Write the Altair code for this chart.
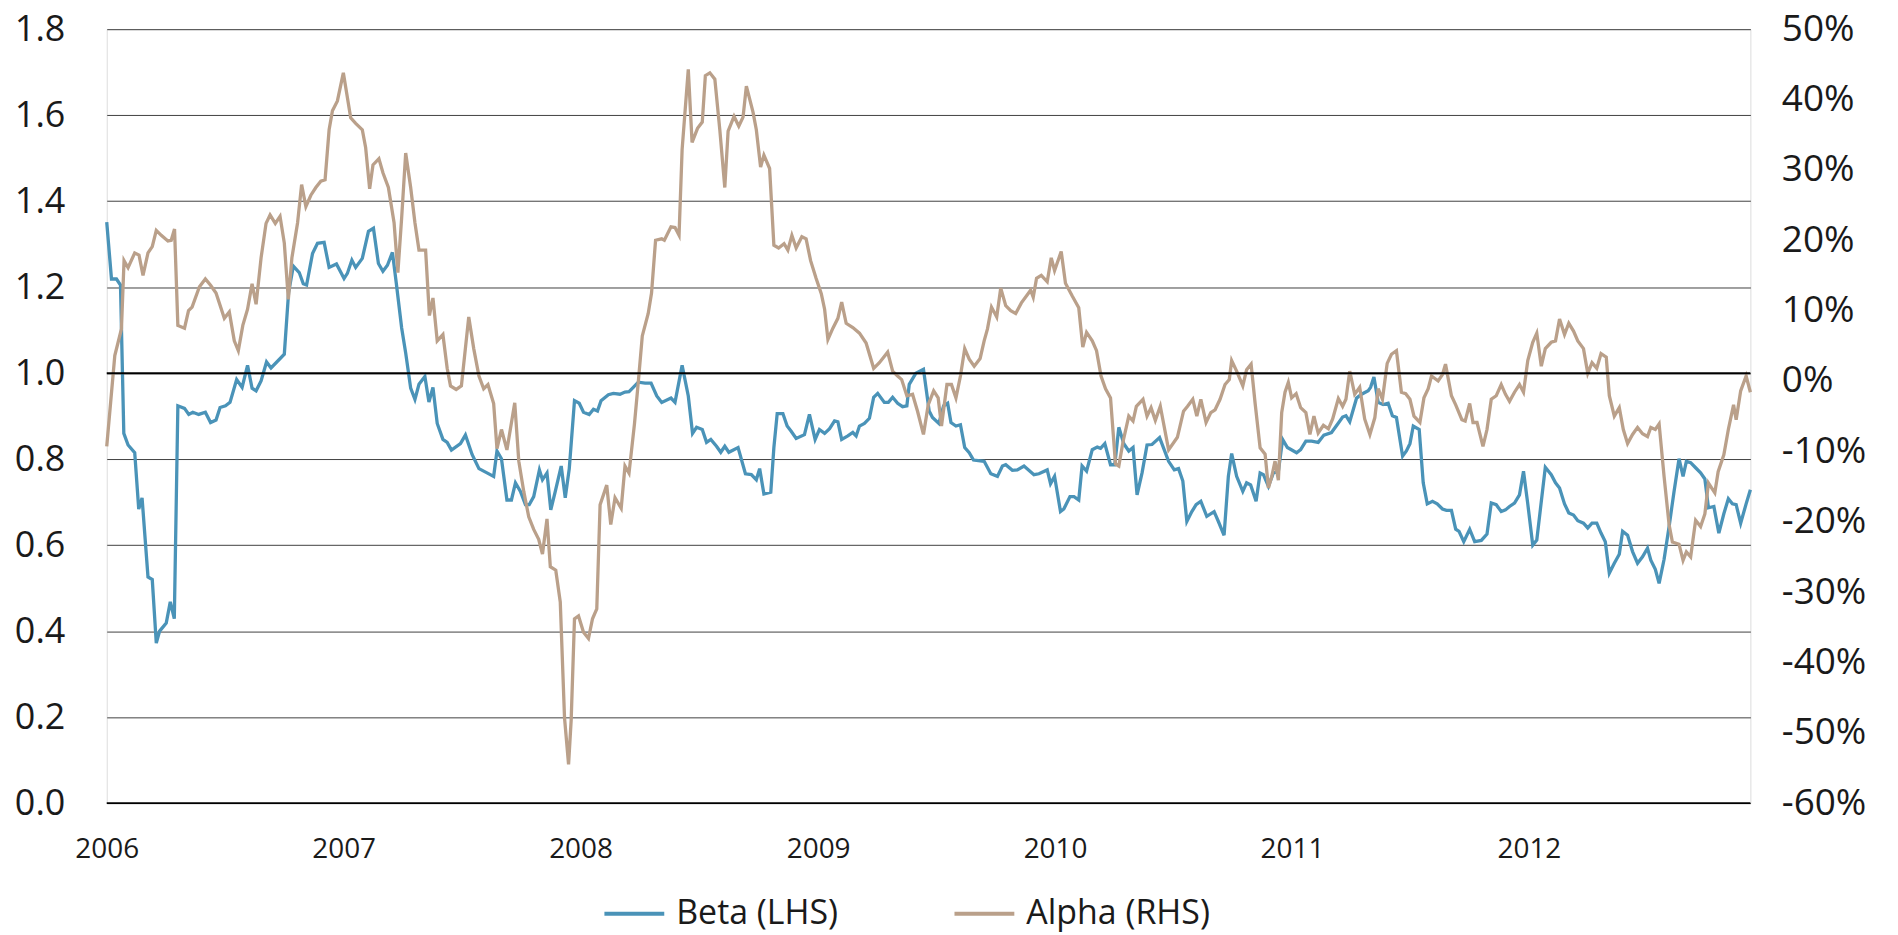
import altair as alt
import pandas as pd
import numpy as np

# ---- data (time in years since 2006-01-01) ----
beta_t = [0.000, 0.020, 0.041, 0.058, 0.072, 0.090, 0.118, 0.135, 0.149, 0.174, 0.192, 0.209, 0.223, 0.251,
          0.268, 0.285, 0.300, 0.328, 0.346, 0.363, 0.388, 0.416, 0.438, 0.461, 0.478, 0.501, 0.520, 0.548,
          0.571, 0.594, 0.613, 0.630, 0.651, 0.674, 0.693, 0.749, 0.767, 0.787, 0.812, 0.829, 0.843, 0.868,
          0.889, 0.917, 0.938, 0.969, 1.001, 1.015, 1.034, 1.050, 1.078, 1.104, 1.125, 1.146, 1.165, 1.184,
          1.205, 1.221, 1.244, 1.261, 1.282, 1.300, 1.317, 1.342, 1.359, 1.376, 1.394, 1.418, 1.436, 1.454,
          1.492, 1.513, 1.541, 1.570, 1.604, 1.632, 1.646, 1.665, 1.688, 1.707, 1.724, 1.745, 1.766, 1.782,
          1.801, 1.825, 1.838, 1.857, 1.873, 1.892, 1.917, 1.934, 1.951, 1.973, 1.993, 2.011, 2.035, 2.053,
          2.070, 2.085, 2.116, 2.137, 2.165, 2.186, 2.203, 2.221, 2.242, 2.271, 2.296, 2.320, 2.341, 2.380,
          2.397, 2.427, 2.453, 2.471, 2.488, 2.512, 2.530, 2.548, 2.572, 2.590, 2.607, 2.624, 2.663, 2.694,
          2.719, 2.740, 2.754, 2.772, 2.801, 2.814, 2.828, 2.852, 2.870, 2.887, 2.908, 2.943, 2.964, 2.988,
          3.006, 3.028, 3.049, 3.070, 3.084, 3.100, 3.126, 3.147, 3.161, 3.175, 3.196, 3.217, 3.235, 3.252,
          3.280, 3.297, 3.315, 3.336, 3.357, 3.375, 3.385, 3.413, 3.445, 3.469, 3.483, 3.510, 3.530, 3.547,
          3.561, 3.582, 3.601, 3.619, 3.638, 3.656, 3.701, 3.729, 3.757, 3.778, 3.792, 3.820, 3.841, 3.869,
          3.911, 3.932, 3.967, 3.981, 3.998, 4.023, 4.037, 4.063, 4.080, 4.100, 4.114, 4.133, 4.157, 4.178,
          4.192, 4.210, 4.234, 4.252, 4.269, 4.290, 4.311, 4.329, 4.346, 4.367, 4.388, 4.409, 4.441, 4.479,
          4.503, 4.521, 4.539, 4.556, 4.577, 4.595, 4.615, 4.640, 4.671, 4.689, 4.713, 4.731, 4.745, 4.766,
          4.792, 4.808, 4.825, 4.848, 4.865, 4.879, 4.900, 4.921, 4.942, 4.960, 4.980, 5.019, 5.036, 5.058,
          5.082, 5.110, 5.134, 5.166, 5.190, 5.213, 5.227, 5.243, 5.272, 5.293, 5.321, 5.331, 5.345, 5.363,
          5.384, 5.405, 5.423, 5.440, 5.466, 5.482, 5.497, 5.511, 5.536, 5.553, 5.570, 5.592, 5.612, 5.634,
          5.651, 5.672, 5.690, 5.704, 5.724, 5.749, 5.770, 5.798, 5.822, 5.840, 5.861, 5.882, 5.900, 5.917,
          5.938, 5.959, 5.976, 5.994, 6.015, 6.032, 6.068, 6.093, 6.111, 6.128, 6.149, 6.167, 6.187, 6.205,
          6.229, 6.247, 6.265, 6.285, 6.303, 6.321, 6.338, 6.359, 6.380, 6.394, 6.415, 6.436, 6.457, 6.478,
          6.499, 6.513, 6.532, 6.548, 6.569, 6.590, 6.611, 6.632, 6.649, 6.663, 6.681, 6.702, 6.723, 6.741,
          6.756, 6.779, 6.800, 6.821, 6.840, 6.857, 6.873, 6.892, 6.915, 6.933]
beta_v = [1.351, 1.219, 1.219, 1.205, 0.860, 0.833, 0.815, 0.684, 0.710, 0.526, 0.520, 0.372, 0.400, 0.419,
          0.468, 0.429, 0.924, 0.918, 0.904, 0.909, 0.904, 0.909, 0.885, 0.891, 0.920, 0.924, 0.932, 0.985,
          0.967, 1.018, 0.965, 0.959, 0.982, 1.026, 1.012, 1.044, 1.187, 1.249, 1.234, 1.208, 1.205, 1.278,
          1.302, 1.304, 1.246, 1.254, 1.220, 1.232, 1.263, 1.246, 1.267, 1.330, 1.337, 1.255, 1.237, 1.251,
          1.281, 1.211, 1.105, 1.047, 0.965, 0.939, 0.974, 0.992, 0.933, 0.967, 0.883, 0.846, 0.839, 0.821,
          0.836, 0.856, 0.811, 0.778, 0.768, 0.760, 0.819, 0.801, 0.705, 0.705, 0.745, 0.725, 0.694, 0.694,
          0.713, 0.775, 0.752, 0.768, 0.682, 0.725, 0.784, 0.710, 0.778, 0.936, 0.930, 0.909, 0.904, 0.916,
          0.912, 0.936, 0.950, 0.953, 0.951, 0.956, 0.957, 0.967, 0.979, 0.977, 0.977, 0.947, 0.932, 0.942,
          0.932, 1.018, 0.947, 0.860, 0.874, 0.869, 0.839, 0.846, 0.830, 0.816, 0.830, 0.816, 0.827, 0.766,
          0.764, 0.752, 0.778, 0.719, 0.723, 0.827, 0.906, 0.906, 0.877, 0.865, 0.848, 0.857, 0.904, 0.846,
          0.869, 0.860, 0.871, 0.889, 0.887, 0.846, 0.854, 0.862, 0.854, 0.877, 0.883, 0.895, 0.944, 0.953,
          0.932, 0.932, 0.944, 0.930, 0.922, 0.924, 0.974, 1.000, 1.009, 0.912, 0.897, 0.883, 0.924, 0.930,
          0.885, 0.877, 0.880, 0.827, 0.815, 0.798, 0.795, 0.766, 0.760, 0.784, 0.787, 0.774, 0.775, 0.784,
          0.764, 0.766, 0.775, 0.743, 0.760, 0.678, 0.684, 0.713, 0.713, 0.705, 0.784, 0.772, 0.822, 0.828,
          0.825, 0.836, 0.787, 0.787, 0.874, 0.836, 0.819, 0.827, 0.717, 0.768, 0.833, 0.834, 0.850, 0.795,
          0.775, 0.778, 0.749, 0.655, 0.678, 0.694, 0.702, 0.667, 0.678, 0.655, 0.623, 0.760, 0.813, 0.760,
          0.725, 0.745, 0.740, 0.702, 0.768, 0.764, 0.737, 0.768, 0.772, 0.846, 0.827, 0.815, 0.822, 0.842,
          0.842, 0.839, 0.856, 0.862, 0.880, 0.898, 0.901, 0.887, 0.942, 0.951, 0.959, 0.967, 0.991, 0.932,
          0.927, 0.930, 0.901, 0.897, 0.807, 0.819, 0.836, 0.877, 0.869, 0.745, 0.696, 0.702, 0.696, 0.684,
          0.681, 0.681, 0.637, 0.632, 0.608, 0.637, 0.608, 0.611, 0.626, 0.698, 0.694, 0.678, 0.682, 0.690,
          0.698, 0.717, 0.772, 0.696, 0.600, 0.612, 0.781, 0.764, 0.745, 0.733, 0.696, 0.675, 0.670, 0.657,
          0.651, 0.640, 0.651, 0.651, 0.628, 0.608, 0.535, 0.558, 0.579, 0.632, 0.623, 0.585, 0.558, 0.573,
          0.593, 0.565, 0.544, 0.511, 0.567, 0.643, 0.725, 0.801, 0.760, 0.795, 0.792, 0.780, 0.768, 0.754,
          0.687, 0.690, 0.628, 0.673, 0.708, 0.696, 0.694, 0.651, 0.696, 0.729]

alpha_t = [0.000, 0.034, 0.062, 0.073, 0.090, 0.118, 0.136, 0.153, 0.174, 0.192, 0.209, 0.230, 0.258, 0.272,
           0.286, 0.300, 0.328, 0.345, 0.360, 0.391, 0.416, 0.438, 0.461, 0.496, 0.517, 0.538, 0.555, 0.574,
           0.594, 0.613, 0.630, 0.651, 0.672, 0.689, 0.711, 0.731, 0.749, 0.766, 0.781, 0.805, 0.822, 0.840,
           0.861, 0.882, 0.903, 0.921, 0.938, 0.952, 0.973, 0.998, 1.029, 1.050, 1.078, 1.092, 1.109, 1.123,
           1.148, 1.165, 1.188, 1.212, 1.228, 1.244, 1.261, 1.282, 1.300, 1.317, 1.345, 1.361, 1.376, 1.394,
           1.418, 1.436, 1.450, 1.474, 1.496, 1.527, 1.548, 1.570, 1.590, 1.608, 1.632, 1.646, 1.665, 1.688,
           1.721, 1.738, 1.759, 1.780, 1.801, 1.822, 1.838, 1.857, 1.871, 1.894, 1.913, 1.931, 1.948, 1.959,
           1.973, 1.990, 2.011, 2.032, 2.049, 2.067, 2.081, 2.109, 2.126, 2.144, 2.170, 2.186, 2.203, 2.226,
           2.242, 2.259, 2.284, 2.298, 2.315, 2.341, 2.352, 2.380, 2.397, 2.414, 2.427, 2.453, 2.469, 2.492,
           2.512, 2.525, 2.544, 2.565, 2.586, 2.607, 2.621, 2.646, 2.666, 2.684, 2.698, 2.726, 2.740, 2.758,
           2.772, 2.796, 2.814, 2.834, 2.857, 2.873, 2.890, 2.908, 2.932, 2.950, 2.969, 2.992, 3.014, 3.028,
           3.042, 3.063, 3.084, 3.100, 3.119, 3.147, 3.175, 3.203, 3.235, 3.259, 3.294, 3.315, 3.336, 3.353,
           3.375, 3.399, 3.420, 3.445, 3.465, 3.488, 3.507, 3.521, 3.544, 3.563, 3.582, 3.601, 3.619, 3.638,
           3.659, 3.684, 3.701, 3.715, 3.732, 3.754, 3.771, 3.792, 3.813, 3.834, 3.858, 3.880, 3.897, 3.908,
           3.922, 3.942, 3.967, 3.984, 3.998, 4.026, 4.044, 4.072, 4.100, 4.117, 4.133, 4.157, 4.175, 4.194,
           4.213, 4.234, 4.255, 4.269, 4.287, 4.311, 4.329, 4.343, 4.371, 4.388, 4.405, 4.423, 4.444, 4.479,
           4.516, 4.542, 4.559, 4.581, 4.598, 4.615, 4.637, 4.657, 4.675, 4.696, 4.717, 4.735, 4.745, 4.766,
           4.792, 4.808, 4.827, 4.844, 4.865, 4.886, 4.900, 4.914, 4.928, 4.942, 4.956, 4.970, 4.984, 4.998,
           5.017, 5.036, 5.058, 5.075, 5.092, 5.110, 5.132, 5.153, 5.171, 5.195, 5.213, 5.227, 5.243, 5.264,
           5.285, 5.306, 5.328, 5.349, 5.363, 5.381, 5.401, 5.419, 5.440, 5.461, 5.479, 5.497, 5.514, 5.539,
           5.556, 5.574, 5.588, 5.616, 5.634, 5.647, 5.672, 5.690, 5.716, 5.730, 5.749, 5.763, 5.780, 5.805,
           5.822, 5.840, 5.861, 5.882, 5.900, 5.917, 5.938, 5.959, 5.976, 5.994, 6.015, 6.032, 6.051, 6.068,
           6.093, 6.111, 6.128, 6.149, 6.167, 6.187, 6.205, 6.229, 6.247, 6.265, 6.285, 6.303, 6.325, 6.338,
           6.359, 6.380, 6.397, 6.415, 6.436, 6.457, 6.478, 6.499, 6.513, 6.532, 6.548, 6.569, 6.590, 6.604,
           6.632, 6.649, 6.663, 6.681, 6.702, 6.723, 6.741, 6.756, 6.783, 6.797, 6.821, 6.840, 6.862, 6.873,
           6.892, 6.915, 6.933]
alpha_v = [-9.3, 3.6, 7.4, 17.1, 16.1, 18.2, 17.9, 15.0, 18.2, 19.1, 21.4, 20.7, 19.9, 20.0,
           21.6, 7.9, 7.5, 10.0, 10.5, 13.4, 14.5, 13.6, 12.5, 8.9, 9.8, 5.7, 4.3, 7.9,
           10.2, 13.8, 10.9, 17.5, 22.4, 23.6, 22.4, 23.4, 19.6, 11.6, 17.5, 22.5, 27.9, 24.8,
           26.4, 27.5, 28.4, 28.6, 35.7, 38.4, 39.8, 43.8, 37.4, 36.6, 35.7, 33.2, 27.3, 30.7,
           31.6, 29.6, 27.5, 22.5, 15.4, 23.2, 32.4, 27.5, 22.5, 18.6, 18.6, 9.3, 11.8, 5.7,
           6.6, 1.8, -0.7, -1.2, -0.7, 9.1, 4.6, 0.7, -1.1, -0.5, -3.2, -9.6, -6.9, -9.8,
           -3.1, -11.4, -15.7, -19.3, -21.1, -22.5, -24.6, -19.6, -26.4, -26.9, -31.4, -47.9, -54.5, -48.2,
           -33.8, -33.4, -35.7, -36.6, -33.8, -32.4, -17.6, -14.8, -20.4, -16.6, -18.1, -12.1, -13.1, -6.1,
           -0.2, 6.4, 9.6, 12.5, 20.0, 20.2, 20.0, 21.9, 21.8, 20.7, 32.9, 44.3, 33.9, 35.9,
           36.8, 43.4, 43.8, 42.9, 35.7, 27.5, 35.5, 37.6, 36.2, 37.5, 41.9, 38.2, 35.7, 30.4,
           32.1, 30.2, 19.3, 18.9, 19.5, 18.6, 20.7, 18.9, 20.5, 20.2, 17.1, 14.6, 12.4, 10.2,
           5.9, 7.5, 8.9, 11.2, 8.2, 7.6, 6.8, 5.4, 1.8, 2.6, 4.1, 1.4, 0.7, 0.2,
           -2.1, -1.9, -4.3, -7.6, -3.4, -1.4, -2.4, -6.4, -0.5, -0.5, -2.4, 0.7, 4.6, 3.1,
           2.1, 3.2, 5.7, 7.4, 10.5, 9.1, 13.2, 10.7, 10.0, 9.6, 11.1, 12.1, 12.9, 11.9,
           14.6, 15.0, 14.1, 17.5, 15.7, 18.4, 13.9, 12.1, 10.4, 4.8, 6.9, 5.7, 4.3, 0.7,
           -1.1, -2.4, -11.8, -12.1, -8.6, -5.0, -5.7, -3.6, -2.6, -5.0, -3.8, -5.6, -3.6, -9.8,
           -8.0, -4.3, -3.6, -2.6, -5.0, -2.6, -5.9, -4.5, -4.1, -2.6, -0.5, 0.2, 2.9, 1.4,
           -0.7, 1.6, 2.4, -3.2, -9.5, -10.4, -15.2, -13.6, -11.4, -14.1, -4.5, -1.6, -0.2, -2.4,
           -1.8, -3.8, -4.5, -7.6, -5.0, -7.4, -6.3, -6.8, -5.4, -2.5, -3.6, -2.6, 1.4, -1.9,
           -0.9, -5.4, -7.6, -5.2, -1.1, -2.6, 2.5, 3.8, 4.3, -1.6, -1.8, -2.6, -5.0, -5.9,
           -2.4, -1.1, 0.7, 0.0, 0.9, 2.4, -2.1, -3.4, -5.5, -5.7, -3.2, -5.9, -5.9, -9.3,
           -6.9, -2.6, -2.1, -0.5, -1.9, -2.9, -1.6, -0.5, -1.6, 2.9, 5.5, 6.8, 2.1, 4.6,
           5.5, 5.7, 8.8, 6.6, 8.2, 7.1, 5.7, 4.6, 1.1, 2.6, 1.8, 3.9, 3.4, -2.1,
           -5.0, -3.8, -6.9, -8.9, -7.6, -6.6, -7.5, -7.9, -6.6, -6.9, -6.1, -13.6, -20.4, -22.9,
           -23.2, -25.5, -24.3, -25.0, -19.8, -20.7, -18.9, -14.5, -15.9, -12.9, -10.5, -6.9, -3.4, -5.5,
           -1.4, 0.7, -1.6]

series_names = ["Beta (LHS)", "Alpha (RHS)"]
series_colors = ["#4a93b8", "#baa08a"]
year_ticks = [2006, 2007, 2008, 2009, 2010, 2011, 2012]
beta_ticks = [0.0, 0.2, 0.4, 0.6, 0.8, 1.0, 1.2, 1.4, 1.6, 1.8]
alpha_ticks = [-60, -50, -40, -30, -20, -10, 0, 10, 20, 30, 40, 50]
ref_lines = [0.0, 1.0]

START = pd.Timestamp("2006-01-01")


def to_dates(t):
    return START + pd.to_timedelta(np.asarray(t) * 365.25, unit="D")


beta_df = pd.DataFrame({"date": to_dates(beta_t), "value": beta_v, "series": series_names[0]})
alpha_df = pd.DataFrame({"date": to_dates(alpha_t), "value": alpha_v, "series": series_names[1]})
rule_df = pd.DataFrame({"y": ref_lines})

end = to_dates([max(beta_t)])[0]
x_scale = alt.Scale(domain=[
    alt.DateTime(year=2006, month=1, date=1),
    alt.DateTime(year=int(end.year), month=int(end.month), date=int(end.day), hours=int(end.hour)),
])
x_axis = alt.Axis(
    values=[alt.DateTime(year=y, month=1, date=1) for y in year_ticks],
    format="%Y", title=None, ticks=False, domain=False, grid=False,
    labelFontSize=28, labelFont="Open Sans", labelColor="#1a1a1a", labelPadding=33,
    labelFlush=False, labelOverlap=False, labelBound=False,
)

color = alt.Color(
    "series:N",
    scale=alt.Scale(domain=series_names, range=series_colors),
    legend=alt.Legend(
        title=None, orient="none", legendX=497, legendY=855, direction="horizontal",
        symbolType="stroke", symbolSize=3600, symbolStrokeWidth=4, symbolOpacity=1,
        labelFontSize=34, labelFont="Open Sans", labelColor="#1a1a1a", labelOffset=10,
        columnPadding=108, padding=0, labelLimit=500,
    ),
)

beta_line = alt.Chart(beta_df).mark_line(strokeWidth=3.3).encode(
    x=alt.X("date:T", scale=x_scale, axis=x_axis),
    y=alt.Y("value:Q", scale=alt.Scale(domain=[0, 1.8], nice=False, zero=False),
            axis=alt.Axis(orient="left", values=beta_ticks, format=".1f", title=None, ticks=False,
                          domain=False, grid=True, gridColor="#404040", gridWidth=1,
                          labelFontSize=36, labelFont="Open Sans", labelColor="#1a1a1a",
                          labelPadding=42, labelFlush=False)),
    color=color,
)

alpha_line = alt.Chart(alpha_df).mark_line(strokeWidth=3.3).encode(
    x=alt.X("date:T", scale=x_scale, axis=x_axis),
    y=alt.Y("value:Q", scale=alt.Scale(domain=[-60, 50], nice=False, zero=False),
            axis=alt.Axis(orient="right", values=alpha_ticks, labelExpr="datum.value + '%'",
                          title=None, ticks=False, domain=False, grid=False,
                          labelFontSize=37, labelFont="Open Sans", labelColor="#1a1a1a",
                          labelPadding=31, labelAlign="left", labelFlush=False)),
    color=color,
)

rules = alt.Chart(rule_df).mark_rule(color="#000000", strokeWidth=2).encode(
    y=alt.Y("y:Q", scale=alt.Scale(domain=[0, 1.8], nice=False, zero=False), axis=None),
)

chart = alt.layer(beta_line, alpha_line, rules).resolve_scale(y="independent").properties(
    width=1648,
    height=776,
    autosize=alt.AutoSizeParams(type="none"),
    padding={"left": 99, "top": 20, "right": 140, "bottom": 136},
).configure_view(stroke=None).configure(font="Open Sans")

chart.save("out.html", embed_options={"renderer": "svg", "actions": False})
